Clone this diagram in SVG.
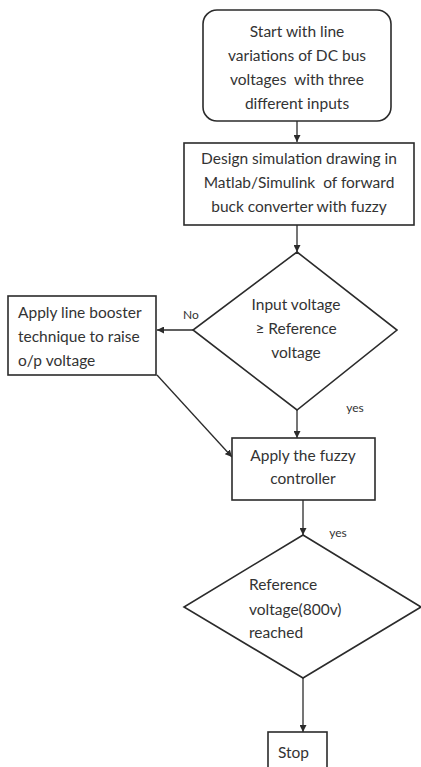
<svg xmlns="http://www.w3.org/2000/svg" width="421" height="767" viewBox="0 0 421 767">
<style>
.s{fill:#fff;stroke:#2b2b2b;stroke-width:1.6}
.c{fill:none;stroke:#2b2b2b;stroke-width:1.3}
text{font-family:Lato,"Liberation Sans",sans-serif;font-size:15.5px;fill:#333;white-space:pre}
.m{text-anchor:middle}
.l{font-size:12px}
</style>
<defs>
<marker id="a" viewBox="0 0 10 10" refX="10" refY="5" markerWidth="7" markerHeight="7" markerUnits="userSpaceOnUse" orient="auto">
<path d="M0,0L10,5L0,10z" fill="#2b2b2b"/>
</marker>
</defs>
<rect width="421" height="767" fill="#fff"/>
<g id="connectors">
<line class="c" x1="297" y1="121" x2="297" y2="142" marker-end="url(#a)"/>
<line class="c" x1="297" y1="225" x2="297" y2="252" marker-end="url(#a)"/>
<line class="c" x1="193" y1="330" x2="157" y2="330" marker-end="url(#a)"/>
<line class="c" x1="157" y1="375" x2="232" y2="457" marker-end="url(#a)"/>
<line class="c" x1="297" y1="410" x2="297" y2="438" marker-end="url(#a)"/>
<line class="c" x1="303" y1="500" x2="303" y2="535" marker-end="url(#a)"/>
<line class="c" x1="303" y1="678" x2="303" y2="732" marker-end="url(#a)"/>
<text class="l" x="191" y="319" text-anchor="middle">No</text>
<text class="l" x="355" y="412" text-anchor="middle">yes</text>
<text class="l" x="338" y="537" text-anchor="middle">yes</text>
</g>
<g id="start">
<rect class="s" x="203" y="10" width="188" height="111" rx="14"/>
<text class="m" x="297" y="37">Start with line</text>
<text class="m" x="297" y="61">variations of DC bus</text>
<text class="m" x="297" y="85">voltages  with three</text>
<text class="m" x="297" y="109">different inputs</text>
</g>
<g id="design">
<rect class="s" x="184" y="143" width="230" height="82"/>
<text class="m" x="299" y="164">Design simulation drawing in</text>
<text class="m" x="299" y="188">Matlab/Simulink  of forward</text>
<text class="m" x="299" y="212">buck converter with fuzzy</text>
</g>
<g id="decision1">
<polygon class="s" points="297,252 397,330 297,410 193,330"/>
<text class="m" x="296" y="310">Input voltage</text>
<text class="m" x="296" y="334">≥ Reference</text>
<text class="m" x="296" y="358">voltage</text>
</g>
<g id="booster">
<rect class="s" x="8" y="296" width="148" height="79"/>
<text x="18" y="318">Apply line booster</text>
<text x="18" y="342">technique to raise</text>
<text x="18" y="366">o/p voltage</text>
</g>
<g id="fuzzy">
<rect class="s" x="232" y="438" width="143" height="62"/>
<text class="m" x="303" y="461">Apply the fuzzy</text>
<text class="m" x="303" y="484">controller</text>
</g>
<g id="decision2">
<polygon class="s" points="303,535 421,607 303,678 184,607"/>
<text x="249" y="590">Reference</text>
<text x="249" y="615">voltage(800v)</text>
<text x="249" y="638">reached</text>
</g>
<g id="stop">
<rect class="s" x="268" y="732" width="59" height="40"/>
<text x="278" y="758">Stop</text>
</g>
</svg>
